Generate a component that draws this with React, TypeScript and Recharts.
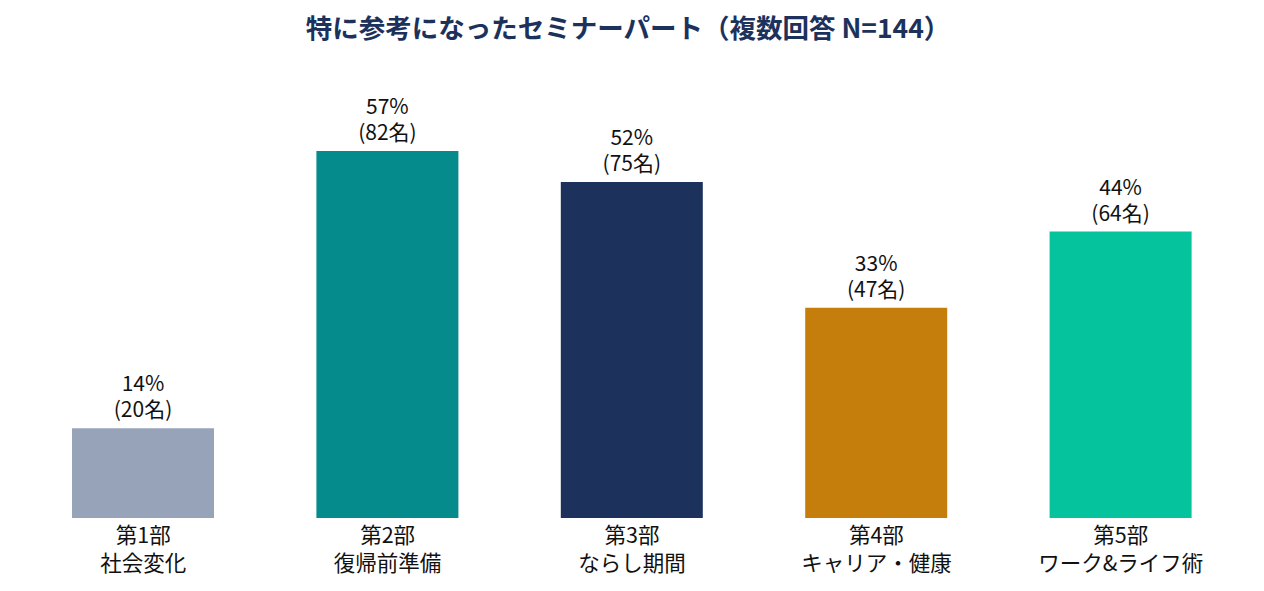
import { BarChart, Bar, XAxis, YAxis, Cell, LabelList } from "recharts";

const categories = [
  ["第1部", "社会変化"],
  ["第2部", "復帰前準備"],
  ["第3部", "ならし期間"],
  ["第4部", "キャリア・健康"],
  ["第5部", "ワーク&ライフ術"],
];
const percentValues = [13.9, 56.9, 52.1, 32.6, 44.4];
const percentLabels = ["14%", "57%", "52%", "33%", "44%"];
const counts = [20, 82, 75, 47, 64];
const barColors = ["#96a3b8", "#058b8c", "#1c325c", "#c57d0b", "#05c39c"];

const data = categories.map((c, i) => ({
  name: c.join("\n"),
  value: percentValues[i],
}));

const FONT = '"Noto Sans CJK JP", "Noto Sans", sans-serif';

function CategoryTick(props: any) {
  const { x, y, payload } = props;
  const lines = String(payload.value).split("\n");
  return (
    <g transform={`translate(${x},${y})`}>
      {lines.map((line, i) => (
        <text
          key={i}
          x={0}
          y={17 + i * 28}
          textAnchor="middle"
          fill="#111"
          fontSize={21.5}
          fontFamily={FONT}
        >
          {line}
        </text>
      ))}
    </g>
  );
}

function ValueLabel(props: any) {
  const { x, y, width, index } = props;
  const cx = x + width / 2;
  return (
    <g>
      <text x={cx} y={y - 37} textAnchor="middle" fill="#111" fontSize={21} fontFamily={FONT}>
        {percentLabels[index]}
      </text>
      <text x={cx} y={y - 11} textAnchor="middle" fill="#111" fontSize={21} fontFamily={FONT}>
        ({counts[index]}名)
      </text>
    </g>
  );
}

export default function App() {
  return (
    <div style={{ position: "absolute", left: 0, top: 0, width: 1264, height: 591, background: "#fff" }}>
      <div
        style={{
          position: "absolute",
          top: 7,
          left: -4,
          width: 1264,
          textAlign: "center",
          fontFamily: FONT,
          fontWeight: 700,
          fontSize: 26.5,
          color: "#1c325c",
        }}
      >
        特に参考になったセミナーパート（複数回答 N=144）
      </div>
      <BarChart
        width={1264}
        height={591}
        data={data}
        margin={{ top: 131, right: 21, bottom: 0, left: 21 }}
        barSize={142}
      >
        <XAxis
          dataKey="name"
          axisLine={false}
          tickLine={false}
          tick={<CategoryTick />}
          interval={0}
          height={73}
        />
        <YAxis hide domain={[0, 60]} />
        <Bar dataKey="value" isAnimationActive={false}>
          {data.map((d, i) => (
            <Cell key={d.name} fill={barColors[i]} />
          ))}
          <LabelList dataKey="value" content={<ValueLabel />} />
        </Bar>
      </BarChart>
    </div>
  );
}
